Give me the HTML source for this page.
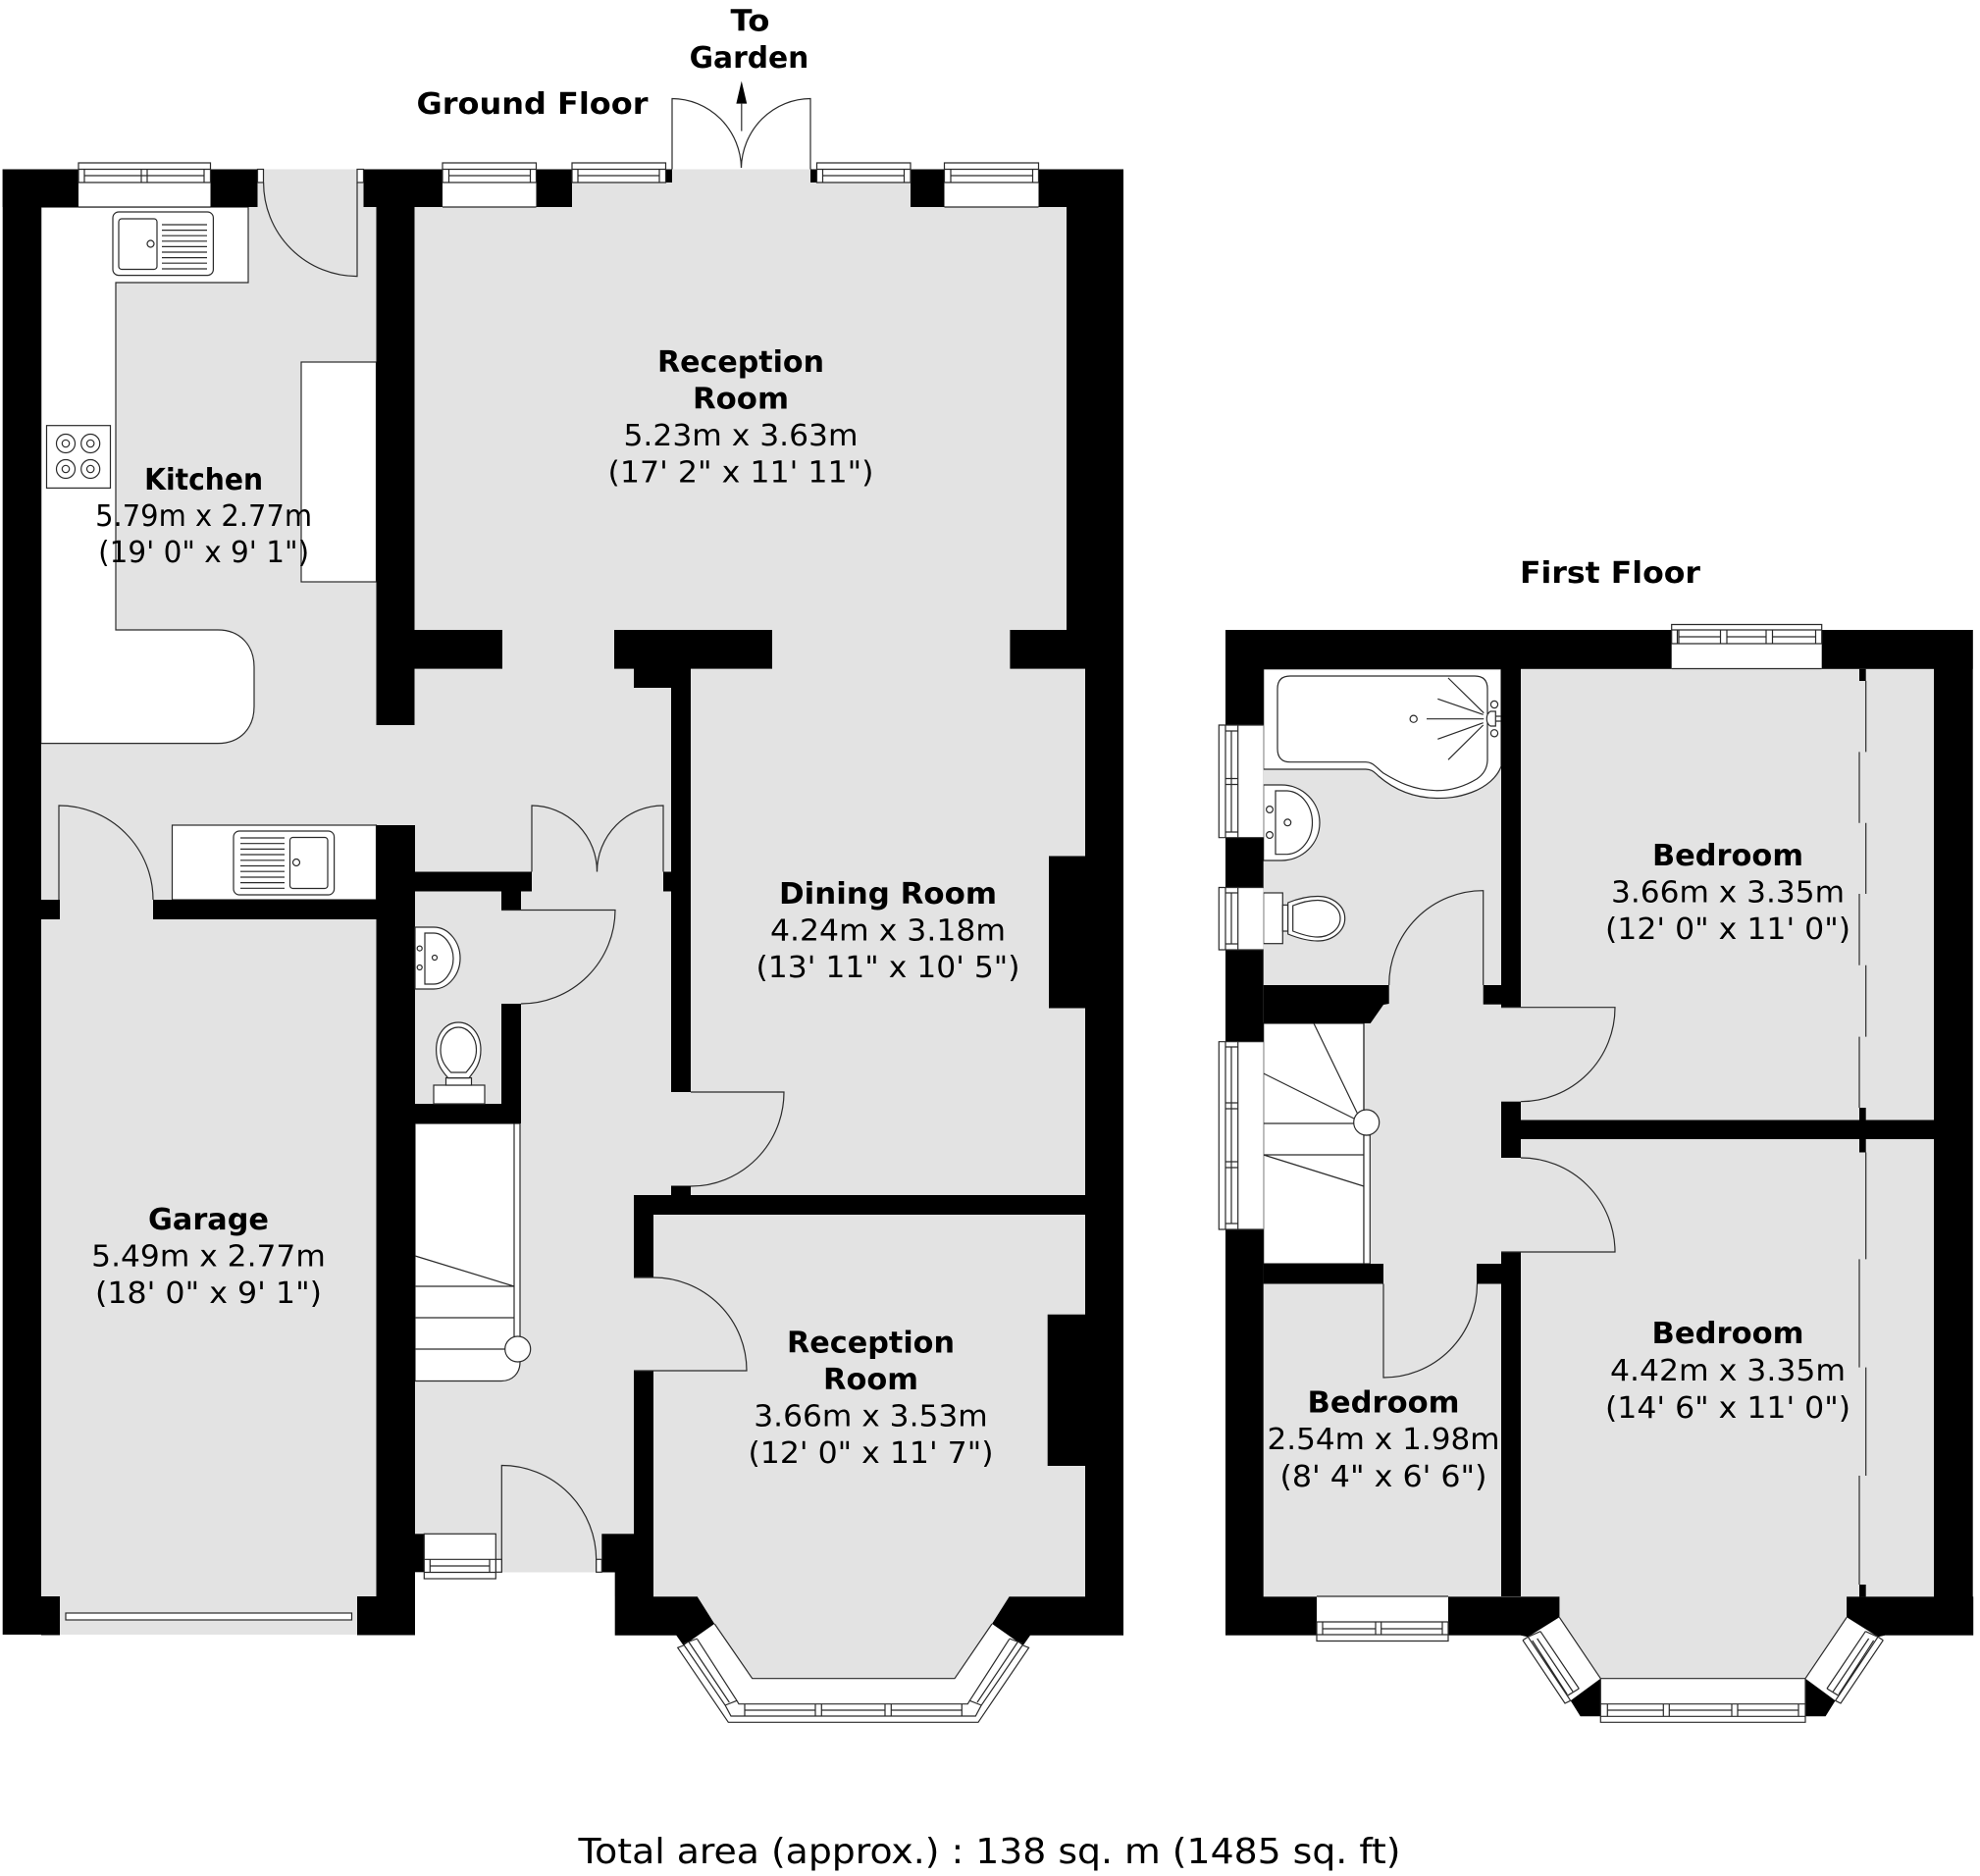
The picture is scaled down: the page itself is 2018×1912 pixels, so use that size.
<!DOCTYPE html>
<html><head><meta charset="utf-8"><title>Floor plan</title>
<style>html,body{margin:0;padding:0;background:#fff}svg{display:block}
text{fill:#000;text-anchor:middle;font-family:"DejaVu Sans","Liberation Sans",sans-serif;font-size:30.5px}
.b{font-weight:bold;font-size:30px}
.l{fill:none;stroke:#2a2a2a;stroke-width:1.2}
.w{fill:#fff;stroke:#2a2a2a;stroke-width:1.2}
.k{fill:#000}
</style></head><body>
<svg xmlns="http://www.w3.org/2000/svg" width="2018" height="1912" viewBox="0 0 2018 1912">
<rect width="2018" height="1912" fill="#fff"/>
<!-- floors -->
<g fill="#e3e3e3">
<rect x="42" y="172.5" width="1064" height="1454.5"/>
<rect x="61" y="1627" width="303" height="39"/>
<polygon points="710,1627 766.7,1710.7 973,1710.7 1029.4,1627"/>
<rect x="1287.7" y="681.8" width="683.3" height="945.2"/>
<polygon points="1589,1627 1589,1647.7 1631.5,1710.7 1839.5,1710.7 1882.2,1647.7 1882.2,1627"/>
</g>
<rect x="422.7" y="1602.5" width="204" height="64.5" fill="#fff"/>
<!-- ground fixtures -->
<path class="w" d="M41.7 211H253V288H118V642H222C245 642 259 658 259 680V720C259 742 245 757.6 222 757.6H41.7Z"/>
<rect class="w" x="307" y="369" width="76.5" height="224"/>
<rect class="w" x="175.5" y="841" width="208" height="76"/>
<path class="w" d="M423 1145H530V1388C530 1400 522 1407.5 511 1407.5H423Z"/>
<!-- ground walls -->
<g class="k">
<rect x="2.7" y="172.5" width="77.5" height="38.5"/>
<rect x="2.7" y="172.5" width="39.3" height="1493.5"/>
<rect x="214.5" y="172.5" width="48" height="38.5"/>
<rect x="370.5" y="172.5" width="80.5" height="38.5"/>
<rect x="383.5" y="172.5" width="39" height="566.5"/>
<rect x="422" y="642" width="90" height="39.6"/>
<rect x="546.5" y="172.5" width="36.5" height="38.5"/>
<rect x="928" y="172.5" width="34.5" height="38.5"/>
<rect x="1058.5" y="172.5" width="86.5" height="38.5"/>
<rect x="1087" y="172.5" width="58" height="509"/>
<rect x="1029.4" y="642" width="115.6" height="39.6"/>
<rect x="1106" y="642" width="39" height="1024.5"/>
<rect x="1069" y="872.5" width="37" height="155"/>
<rect x="1067.7" y="1339.7" width="38.3" height="154.3"/>
<rect x="626" y="642" width="161" height="39.6"/>
<rect x="646" y="681" width="38" height="20"/>
<rect x="684" y="681" width="20" height="432"/>
<rect x="684" y="1208.5" width="20" height="10"/>
<rect x="646" y="1218" width="460" height="20"/>
<rect x="646" y="1218" width="20" height="84"/>
<rect x="646" y="1397" width="20" height="230"/>
<rect x="613.3" y="1563.3" width="33" height="39.2"/>
<polygon points="626.7,1602 666,1602 666,1627.3 710.7,1627.3 728.3,1655 696.7,1677.3 689.3,1666.7 626.7,1666.7"/>
<polygon points="1028.6,1627.3 1106,1627.3 1145,1627.3 1145,1666.7 1050,1666.7 1042.6,1677.3 1011,1655"/>
<rect x="42" y="917" width="19" height="20"/>
<rect x="156" y="917" width="227.5" height="20"/>
<rect x="383.5" y="841" width="39.5" height="825.5"/>
<rect x="42" y="1627" width="19" height="39.5"/>
<rect x="364" y="1627" width="20" height="39.5"/>
<rect x="423" y="888.5" width="119" height="20"/>
<rect x="676" y="888.5" width="8" height="20"/>
<rect x="511" y="908" width="20" height="20"/>
<rect x="511" y="1023" width="20" height="122"/>
<rect x="423" y="1125" width="108" height="20"/>
<rect x="422.7" y="1563.3" width="9.6" height="39"/>
<rect x="678.5" y="172.5" width="6.5" height="13.5"/>
<rect x="826" y="172.5" width="6.5" height="13.5"/>
</g>
<!-- ground top windows -->
<rect fill="#fff" x="80" y="172.5" width="134.5" height="38.5"/>
<rect fill="#fff" x="451" y="172.5" width="95.5" height="38.5"/>
<rect fill="#fff" x="962.5" y="172.5" width="96" height="38.5"/>
<rect fill="#fff" x="583" y="166" width="95.5" height="20"/>
<rect fill="#fff" x="832.5" y="166" width="95.5" height="20"/>
<path class="l" d="M80 211H214.5M80 166H214.5V186H80ZM80 172.5H214.5M86 172.5V186M144 172.5V186M150 172.5V186M208 172.5V186M86 179H208"/>
<path class="l" d="M451 211H546.5M451 166H546.5V186H451ZM451 172.5H546.5M457.5 172.5V186M540.5 172.5V186M457.5 179H540.5"/>
<path class="l" d="M583 166H678.5V186H583ZM583 172.5H678.5M589 172.5V186M672 172.5V186M589 179H672"/>
<path class="l" d="M832.5 166H928V186H832.5ZM832.5 172.5H928M838.5 172.5V186M921.5 172.5V186M838.5 179H921.5"/>
<path class="l" d="M962.5 211H1058.5M962.5 166H1058.5V186H962.5ZM962.5 172.5H1058.5M969 172.5V186M1052.5 172.5V186M969 179H1052.5"/>
<rect class="w" x="262.5" y="172.5" width="6" height="13.5"/>
<rect class="w" x="364" y="172.5" width="6.5" height="13.5"/>
<!-- garage door -->
<rect class="w" x="67" y="1644" width="291.5" height="7"/>
<!-- doors ground -->
<path class="l" d="M364 186V281.6A95.5 95.5 0 0 1 268.6 186"/>
<path class="l" d="M60 917V821A96 96 0 0 1 156 917"/>
<path class="l" d="M511 927.5H627A96 96 0 0 1 531 1023"/>
<path class="l" d="M542 888.5V821A67 67.5 0 0 1 608.5 888.5"/>
<path class="l" d="M676 888.5V821A67.5 67.5 0 0 0 608.5 888.5"/>
<path class="l" d="M704 1113H799A95 96 0 0 1 704 1209"/>
<path class="l" d="M646 1397H761A95 95 0 0 0 666 1302H646"/>
<path class="l" d="M511.3 1602.5V1493.5A96.4 96.4 0 0 1 607.7 1590V1602.5"/>
<path class="l" d="M685 172.5V100.5A71 72 0 0 1 755.5 171"/>
<path class="l" d="M826 172.5V100.5A71 72 0 0 0 755.5 171"/>
<path fill="#000" d="M755.8 82.6L761.2 105.6H750.4Z"/>
<path class="l" d="M755.8 105V133.6"/>
<!-- frames entry -->
<rect class="w" x="505.3" y="1589.3" width="6" height="13"/>
<rect class="w" x="607.7" y="1589.3" width="5.6" height="13"/>
<rect class="w" x="432.3" y="1563.3" width="73" height="45.7"/>
<path class="l" d="M432.3 1589.3H505.3M432.3 1602.5H505.3M438.3 1589.3V1602.5M499 1589.3V1602.5M438.3 1596H499"/>
<!-- sink kitchen -->
<rect class="w" x="115" y="216" width="102.4" height="64.6" rx="6"/>
<rect class="w" x="121" y="223" width="39" height="51.5" rx="3"/>
<ellipse class="w" cx="153.5" cy="248.5" rx="3.5" ry="3.5"/>
<path class="l" d="M165 229H211M165 234.6H211M165 240.2H211M165 245.8H211M165 251.4H211M165 257H211M165 262.6H211M165 268.2H211M165 274H211"/>
<!-- hob -->
<rect class="w" x="47.5" y="433.7" width="65" height="63.7"/>
<g class="l"><circle cx="67" cy="452" r="9.5"/><circle cx="67" cy="452" r="3.7"/><circle cx="92.2" cy="452" r="9.5"/><circle cx="92.2" cy="452" r="3.7"/><circle cx="67" cy="478" r="9.5"/><circle cx="67" cy="478" r="3.7"/><circle cx="92.2" cy="478" r="9.5"/><circle cx="92.2" cy="478" r="3.7"/></g>
<!-- sink utility -->
<rect class="w" x="238" y="847" width="102.6" height="65" rx="6"/>
<rect class="w" x="295.5" y="853.5" width="38.5" height="52" rx="3"/>
<circle class="w" cx="302" cy="879" r="3.5"/>
<path class="l" d="M245 854H290M245 859.7H290M245 865.4H290M245 871H290M245 876.8H290M245 882.5H290M245 888.2H290M245 894H290M245 899.6H290M245 905.3H290"/>
<!-- WC -->
<path class="w" d="M423 945H442C458 945 469 961 469 976.5C469 992 458 1008 442 1008H423Z"/>
<path class="l" d="M433 951H442C453 951 462 964 462 977C462 990 453 1003 442 1003H433Z"/>
<circle class="l" cx="427.7" cy="966.6" r="2.5"/><circle class="l" cx="427.7" cy="986" r="2.5"/><circle class="l" cx="443" cy="976" r="2.5"/>
<rect class="w" x="442" y="1106" width="52" height="19"/>
<rect class="w" x="454.5" y="1098.6" width="26" height="7.4"/>
<path class="w" d="M467.3 1042C480 1042 490 1054 490 1070C490 1085 483 1092 478 1098.6H456.6C451 1092 444.6 1085 444.6 1070C444.6 1054 454 1042 467.3 1042Z"/>
<path class="l" d="M467.3 1047C477 1047 485.5 1057 485.5 1070C485.5 1081 480 1087 475 1093H459.6C454 1087 449 1081 449 1070C449 1057 457 1047 467.3 1047Z"/>
<!-- stairs ground -->
<path class="l" d="M524 1145V1363M423 1280L524 1311M423 1311H524M423 1343H524M423 1375H515"/>
<circle class="w" cx="527.7" cy="1375" r="13"/>
<!-- bay ground -->
<polygon fill="#fff" points="728.3,1655 766.7,1710.7 973,1710.7 1011,1655 1042.6,1677.3 1048.6,1679.3 997,1755.3 742.3,1755.3 690.7,1679.3 696.7,1677.3"/>
<path class="l" d="M728.3 1655L766.7 1710.7H973L1011 1655"/>
<path class="l" d="M696.7 1677L690.7 1679.3L742.3 1755.3H997L1048.6 1679.3L1042.6 1677"/>
<path class="l" d="M696.7 1676L739.3 1738.3L745 1749H994.3L1000 1738.3L1042.6 1676"/>
<path class="l" d="M701.7 1673L743.3 1735M1037.6 1673L996 1735"/>
<path class="l" d="M710.7 1670.7L751 1733.3L753 1736.7H986.3L988.3 1733.3L1028.6 1670.7"/>
<path class="l" d="M697.3 1675L710.7 1670M739 1738L751 1733.3M1042 1675L1028.6 1670M1000.3 1738L988.3 1733.3"/>
<path class="l" d="M759 1736.7V1749M831 1736.7V1749M837.3 1736.7V1749M902 1736.7V1749M908.3 1736.7V1749M980.3 1736.7V1749M759 1743H831M837.3 1743H902M908.3 1743H980.3"/>
<!-- first floor fixtures -->
<path class="w" d="M1287.7 681.8H1530V781C1526 792 1515 802 1500 807.5C1485 813 1475 813.5 1464 813.5C1440 813 1420 804 1405 791C1400 786 1397 784 1392 784H1287.7Z"/>
<path class="l" d="M1315 689H1503Q1516 689 1516 702V775Q1515.5 787 1505 794C1490 803 1475 806 1463 805.7C1440 805 1425 797 1410 788C1403 783 1400 776.7 1392 776.7H1315Q1302 776.7 1302 763V702Q1302 689 1315 689Z"/>
<path class="l" d="M1512.3 726.7L1476 691M1511.7 728.3L1465.3 712.3M1512.3 732.7H1454M1511.7 736.7L1465.3 753.3M1511.7 739L1476 774.3"/>
<circle class="l" cx="1440.7" cy="732.7" r="3.6"/>
<circle class="l" cx="1523" cy="718" r="3.6"/><circle class="l" cx="1523" cy="747.3" r="3.6"/>
<path class="w" d="M1524.3 725V740H1519C1514 737 1514 728 1519 725Z"/>
<path class="l" d="M1524.3 730H1530M1524.3 735H1530"/>
<path class="w" d="M1287.7 800H1306A39 38.5 0 0 1 1306 877H1287.7Z"/>
<path class="l" d="M1300 806H1312A27 32.4 0 0 1 1312 870.7H1300Z"/>
<circle class="l" cx="1294" cy="825" r="3.4"/><circle class="l" cx="1294" cy="851" r="3.4"/><circle class="l" cx="1312.3" cy="838.3" r="3.4"/>
<rect class="w" x="1287.7" y="910" width="19.6" height="51.7"/>
<rect class="w" x="1307.3" y="922.4" width="5.4" height="26.6"/>
<path class="w" d="M1312.7 920C1325 915 1335 913.5 1343 913.5C1358 913.5 1370.7 923 1370.7 936C1370.7 949 1358 959 1343 959C1335 959 1325 957 1312.7 952Z"/>
<path class="l" d="M1317.7 923C1328 919 1336 917.5 1343 917.5C1355 917.5 1366 925 1366 936C1366 947 1355 955 1343 955C1336 955 1328 953 1317.7 949Z"/>
<!-- stairs first -->
<rect class="w" x="1287.7" y="1043" width="102.3" height="245"/>
<rect class="w" x="1390" y="1157" width="6.3" height="131"/>
<path class="l" d="M1339 1043L1383.3 1134.5M1287.7 1094L1380 1140M1287.7 1145H1380M1287.7 1177H1390M1287.7 1177L1390 1209"/>
<circle class="w" cx="1392.7" cy="1144" r="13"/>
<!-- first walls -->
<g class="k">
<rect x="1249" y="642" width="761.7" height="39.8"/>
<rect x="1249" y="642" width="38.7" height="1024"/>
<rect x="1971" y="642" width="39.7" height="1024"/>
<rect x="1530" y="642" width="20" height="384.4"/>
<rect x="1511.7" y="1004" width="18.3" height="19.7"/>
<polygon points="1287.7,1004 1415.7,1004 1415.7,1023 1410,1024 1396.7,1043 1287.7,1043"/>
<rect x="1530" y="1122.7" width="20" height="57.3"/>
<rect x="1550" y="1141.5" width="421" height="19.5"/>
<rect x="1530" y="1276" width="20" height="351"/>
<rect x="1287.6" y="1288" width="122.4" height="20.5"/>
<rect x="1505" y="1288" width="25" height="20.5"/>
<rect x="1249" y="1627.3" width="340.3" height="39.4"/>
<polygon points="1550,1666.7 1556.7,1668.3 1589.3,1648.3 1589.3,1627.3"/>
<rect x="1882.2" y="1627.3" width="129" height="39.4"/>
<polygon points="1882.2,1627.3 1882.2,1648.3 1914.6,1668.3 1921,1666.7"/>
<polygon points="1631.3,1710.7 1631.3,1749.3 1610.7,1749.3 1600.7,1733.3"/>
<polygon points="1840,1710.7 1840,1749.3 1860.6,1749.3 1870.6,1733.3"/>
<rect x="1895" y="681.8" width="6.7" height="12.2"/>
<rect x="1895" y="1129" width="6.7" height="12.5"/>
<rect x="1895" y="1161" width="6.7" height="13.5"/>
<rect x="1895" y="1615" width="6.7" height="12.4"/>
</g>
<!-- wardrobe lines -->
<path class="l" d="M1901.7 694V766.4M1895 766.4V838.7M1901.7 838.7V911M1895 911V983.8M1901.7 983.8V1056.6M1895 1056.6V1129M1901.7 1174.5V1283.4M1895 1283.4V1393.6M1901.7 1393.6V1504M1895 1504V1615"/>
<!-- first doors -->
<path class="l" d="M1511.7 1004V907.7A96 96 0 0 0 1415.7 1004"/>
<path class="l" d="M1530 1026.7H1646A96 96 0 0 1 1550 1122.7"/>
<path class="l" d="M1550 1180A96 96 0 0 1 1646 1276H1530"/>
<path class="l" d="M1410 1308.5V1404A95.5 95.5 0 0 0 1505.5 1308.5"/>
<path class="l" d="M1390 1043V1132"/>
<!-- first windows -->
<rect fill="#fff" x="1703.7" y="636.5" width="153" height="45"/>
<path class="l" d="M1703.7 681.5H1856.7M1703.7 636.5H1856.7V656H1703.7ZM1703.7 642H1856.7M1709.5 642V656M1711 642V656M1753.5 642V656M1760 642V656M1800 642V656M1806.5 642V656M1850.5 642V656M1711 649H1753.5M1760 649H1800M1806.5 649H1850.5"/>
<rect fill="#fff" x="1242.3" y="739" width="45.4" height="114.7"/>
<path class="l" d="M1287.7 739H1242.3V853.7H1287.7M1249 739V853.7M1255 745V848M1261.7 739V853.7M1249 745H1261.7M1249 793.5H1261.7M1249 799.5H1261.7M1249 848H1261.7"/>
<rect fill="#fff" x="1242.3" y="904.5" width="45.4" height="63.5"/>
<path class="l" d="M1287.7 904.5H1242.3V968H1287.7M1249 904.5V968M1255 910V962M1261.7 904.5V968M1249 910H1261.7M1249 962H1261.7"/>
<rect fill="#fff" x="1242.3" y="1061.7" width="45.4" height="191.3"/>
<path class="l" d="M1287.7 1061.7H1242.3V1253H1287.7M1249 1061.7V1253M1255 1067V1247M1261.7 1061.7V1253M1249 1067H1261.7M1249 1124H1261.7M1249 1130H1261.7M1249 1184H1261.7M1249 1190H1261.7M1249 1247H1261.7"/>
<rect fill="#fff" x="1342" y="1627" width="134" height="45.5"/>
<path class="l" d="M1342 1627H1476M1342 1653H1476V1672.5H1342ZM1342 1666H1476M1348 1653V1666M1402 1653V1666M1407.7 1653V1666M1470 1653V1666M1348 1660H1402M1407.7 1660H1470"/>
<!-- first bay -->
<rect fill="#fff" x="1631.3" y="1710.7" width="208.7" height="44.6"/>
<path class="l" d="M1631.3 1710.7H1840V1755.3H1631.3ZM1631.3 1736.7H1840M1638.3 1736.7V1749.3M1695.3 1736.7V1749.3M1701.3 1736.7V1749.3M1765 1736.7V1749.3M1771 1736.7V1749.3M1833 1736.7V1749.3M1631.3 1749.3H1840M1638.3 1743H1695.3M1701.3 1743H1765M1771 1743H1833"/>
<polygon fill="#fff" points="1589.3,1648.3 1631.3,1710.7 1609.3,1721 1595,1736 1552,1671.7 1557.3,1668.3"/>
<path class="l" d="M1589.3 1648.3L1631.3 1710.7M1552 1671.7L1595 1736L1600.7 1733.3M1552 1671.7L1557.3 1668.3M1557.3 1668.3L1600.7 1733.3M1561.7 1672L1597.3 1727M1566.7 1670L1603 1724M1570 1662.7L1609.3 1721M1557.3 1668.3L1570 1662.7M1597.3 1728.3L1609.3 1721"/>
<polygon fill="#fff" points="1882.2,1648.3 1840,1710.7 1862,1721 1876,1736 1919.3,1671.7 1914,1668.3"/>
<path class="l" d="M1882.2 1648.3L1840 1710.7M1919.3 1671.7L1876 1736L1870.6 1733.3M1919.3 1671.7L1914 1668.3M1914 1668.3L1870.6 1733.3M1909.6 1672L1874 1727M1904.6 1670L1868.3 1724M1901.3 1662.7L1862 1721M1914 1668.3L1901.3 1662.7M1874 1728.3L1862 1721"/>
<!-- labels -->
<text class="b" x="542.5" y="116" textLength="236" lengthAdjust="spacingAndGlyphs">Ground Floor</text>
<text class="b" x="764.5" y="31.6" textLength="40" lengthAdjust="spacingAndGlyphs">To</text>
<text class="b" x="763.5" y="69" textLength="121.7" lengthAdjust="spacingAndGlyphs">Garden</text>
<text class="b" x="755" y="379" textLength="170" lengthAdjust="spacingAndGlyphs">Reception</text>
<text class="b" x="755" y="416.5" textLength="98" lengthAdjust="spacingAndGlyphs">Room</text>
<text x="755" y="454" textLength="239" lengthAdjust="spacingAndGlyphs">5.23m x 3.63m</text>
<text x="755" y="491.5" textLength="271" lengthAdjust="spacingAndGlyphs">(17' 2" x 11' 11")</text>
<text class="b" x="207.6" y="499" textLength="121" lengthAdjust="spacingAndGlyphs">Kitchen</text>
<text x="207.6" y="536" textLength="221" lengthAdjust="spacingAndGlyphs">5.79m x 2.77m</text>
<text x="207.6" y="573" textLength="215" lengthAdjust="spacingAndGlyphs">(19' 0" x 9' 1")</text>
<text class="b" x="212.5" y="1253" textLength="123" lengthAdjust="spacingAndGlyphs">Garage</text>
<text x="212.5" y="1290.5" textLength="238.6" lengthAdjust="spacingAndGlyphs">5.49m x 2.77m</text>
<text x="212.5" y="1328" textLength="231" lengthAdjust="spacingAndGlyphs">(18' 0" x 9' 1")</text>
<text class="b" x="905" y="921" textLength="222" lengthAdjust="spacingAndGlyphs">Dining Room</text>
<text x="905" y="958.5" textLength="240" lengthAdjust="spacingAndGlyphs">4.24m x 3.18m</text>
<text x="905" y="996" textLength="269" lengthAdjust="spacingAndGlyphs">(13' 11" x 10' 5")</text>
<text class="b" x="887.5" y="1378.6" textLength="171" lengthAdjust="spacingAndGlyphs">Reception</text>
<text class="b" x="887.5" y="1416" textLength="97" lengthAdjust="spacingAndGlyphs">Room</text>
<text x="887.5" y="1453.6" textLength="238.5" lengthAdjust="spacingAndGlyphs">3.66m x 3.53m</text>
<text x="887.5" y="1491" textLength="250" lengthAdjust="spacingAndGlyphs">(12' 0" x 11' 7")</text>
<text class="b" x="1641" y="594" textLength="184" lengthAdjust="spacingAndGlyphs">First Floor</text>
<text class="b" x="1761" y="882" textLength="154" lengthAdjust="spacingAndGlyphs">Bedroom</text>
<text x="1761" y="919.5" textLength="238" lengthAdjust="spacingAndGlyphs">3.66m x 3.35m</text>
<text x="1761" y="957" textLength="250" lengthAdjust="spacingAndGlyphs">(12' 0" x 11' 0")</text>
<text class="b" x="1761" y="1369" textLength="155" lengthAdjust="spacingAndGlyphs">Bedroom</text>
<text x="1761" y="1407" textLength="240" lengthAdjust="spacingAndGlyphs">4.42m x 3.35m</text>
<text x="1761" y="1445" textLength="250" lengthAdjust="spacingAndGlyphs">(14' 6" x 11' 0")</text>
<text class="b" x="1410" y="1439.5" textLength="155" lengthAdjust="spacingAndGlyphs">Bedroom</text>
<text x="1410" y="1477" textLength="237" lengthAdjust="spacingAndGlyphs">2.54m x 1.98m</text>
<text x="1410" y="1515" textLength="211" lengthAdjust="spacingAndGlyphs">(8' 4" x 6' 6")</text>
<text x="1008.5" y="1899" style="font-size:36px" textLength="838" lengthAdjust="spacingAndGlyphs">Total area (approx.) : 138 sq. m (1485 sq. ft)</text>
</svg>
</body></html>
